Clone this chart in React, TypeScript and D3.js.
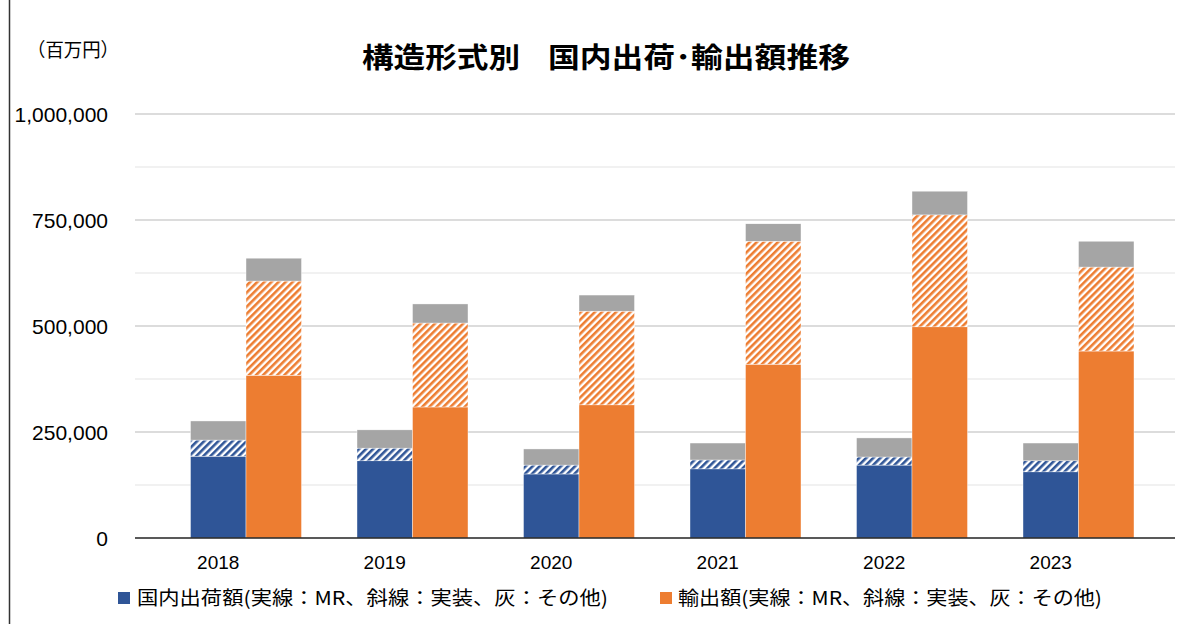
import * as d3 from "d3";

// 単位: 百万円
const years = ["2018", "2019", "2020", "2021", "2022", "2023"];
const domesticMR = [193000, 182000, 151000, 163000, 172000, 156000];
const domesticMount = [38000, 30000, 21000, 21000, 19000, 26000];
const domesticOther = [45000, 43000, 38000, 40000, 45000, 42000];
const exportMR = [384000, 309000, 314000, 410000, 498000, 441000];
const exportMount = [222000, 198000, 221000, 290000, 264000, 198000];
const exportOther = [54000, 45000, 38000, 41000, 56000, 61000];
const yTicks = [0, 250000, 500000, 750000, 1000000];
const minorTicks = [125000, 375000, 625000, 875000];

const titleA = "構造形式別";
const titleB = "国内出荷･輸出額推移";
const unitLabel = "（百万円）";
const legendDomestic = "国内出荷額(実線：MR、斜線：実装、灰：その他)";
const legendExport = "輸出額(実線：MR、斜線：実装、灰：その他)";

const W = 1189;
const H = 624;
const plotLeft = 135;
const plotRight = 1175;
const plotTop = 114;
const plotBottom = 538;

const BLUE = "#2f5597";
const ORANGE = "#ed7d31";
const GRAY = "#a5a5a5";
const NUM_FONT = "'Liberation Sans', Arial, sans-serif";
const JP_FONT = "'Noto Sans CJK JP', 'Noto Sans', sans-serif";

const keys = ["mr", "mount", "other"];

export default function App() {
  const y = d3.scaleLinear().domain([0, 1000000]).range([plotBottom, plotTop]);
  // each year slot = [gap, domestic, export]
  const x = d3.scaleBand<string>().domain(years).range([plotLeft, 1134]).padding(0);
  const barW = x.bandwidth() / 3;

  const domRows = years.map((yr, i) => ({
    year: yr,
    mr: domesticMR[i],
    mount: domesticMount[i],
    other: domesticOther[i],
  }));
  const expRows = years.map((yr, i) => ({
    year: yr,
    mr: exportMR[i],
    mount: exportMount[i],
    other: exportOther[i],
  }));
  const stack = d3.stack<any>().keys(keys);
  const domStack = stack(domRows);
  const expStack = stack(expRows);

  const fills = (color: string, id: string) => ({
    mr: color,
    mount: `url(#${id})`,
    other: GRAY,
  });
  const domFill: any = fills(BLUE, "hatchBlue");
  const expFill: any = fills(ORANGE, "hatchOrange");

  const fmt = d3.format(",");

  const hatch = (id: string, color: string) => (
    <pattern
      id={id}
      patternUnits="userSpaceOnUse"
      width={5}
      height={5}
      patternTransform="rotate(45)"
    >
      <rect width={5} height={5} fill="#fff" />
      <rect width={2.6} height={5} fill={color} />
    </pattern>
  );

  return (
    <svg
      width={W}
      height={H}
      style={{ position: "absolute", left: 0, top: 0, background: "#fff" }}
    >
      <defs>
        {hatch("hatchBlue", BLUE)}
        {hatch("hatchOrange", ORANGE)}
      </defs>

      <rect x={0} y={0} width={W} height={H} fill="#fff" />
      <line x1={9.5} x2={9.5} y1={0} y2={H} stroke="#333" strokeWidth={1.5} />

      {/* title */}
      <text
        x={362}
        y={68}
        fontFamily={JP_FONT}
        fontWeight="bold"
        fontSize={28}
        textLength={158}
        lengthAdjust="spacingAndGlyphs"
        fill="#000"
      >
        {titleA}
      </text>
      <text
        x={548}
        y={68}
        fontFamily={JP_FONT}
        fontWeight="bold"
        fontSize={28}
        textLength={302}
        lengthAdjust="spacingAndGlyphs"
        fill="#000"
      >
        {titleB}
      </text>
      <text
        x={27}
        y={57}
        fontFamily={JP_FONT}
        fontSize={19}
        textLength={92}
        lengthAdjust="spacingAndGlyphs"
        fill="#000"
      >
        {unitLabel}
      </text>

      {/* gridlines */}
      {minorTicks.map((t) => (
        <line
          key={"m" + t}
          x1={plotLeft}
          x2={plotRight}
          y1={y(t)}
          y2={y(t)}
          stroke="#e3e3e3"
          strokeWidth={1}
        />
      ))}
      {yTicks.slice(1).map((t) => (
        <line
          key={"g" + t}
          x1={plotLeft}
          x2={plotRight}
          y1={y(t)}
          y2={y(t)}
          stroke="#d0d0d0"
          strokeWidth={1.5}
        />
      ))}

      {/* y tick labels */}
      {yTicks.map((t) => (
        <text
          key={"t" + t}
          x={108}
          y={y(t)}
          dy="0.36em"
          textAnchor="end"
          fontFamily={NUM_FONT}
          fontSize={21}
          fill="#000"
        >
          {fmt(t)}
        </text>
      ))}

      {/* bars */}
      {domStack.map((layer) =>
        layer.map((d: any) => (
          <rect
            key={"d" + layer.key + d.data.year}
            x={x(d.data.year)! + barW}
            y={y(d[1])}
            width={barW}
            height={y(d[0]) - y(d[1])}
            fill={domFill[layer.key]}
            stroke="#fff"
            strokeWidth={0.4}
          />
        ))
      )}
      {expStack.map((layer) =>
        layer.map((d: any) => (
          <rect
            key={"e" + layer.key + d.data.year}
            x={x(d.data.year)! + 2 * barW}
            y={y(d[1])}
            width={barW}
            height={y(d[0]) - y(d[1])}
            fill={expFill[layer.key]}
            stroke="#fff"
            strokeWidth={0.4}
          />
        ))
      )}

      {/* x axis */}
      <line
        x1={plotLeft}
        x2={plotRight}
        y1={plotBottom}
        y2={plotBottom}
        stroke="#222"
        strokeWidth={1.5}
      />
      {years.map((yr) => (
        <text
          key={"x" + yr}
          x={x(yr)! + barW * 1.5}
          y={569}
          textAnchor="middle"
          fontFamily={NUM_FONT}
          fontSize={19}
          fill="#000"
        >
          {yr}
        </text>
      ))}

      {/* legend */}
      <rect x={118} y={592} width={12} height={12} fill={BLUE} />
      <text
        x={137}
        y={605}
        fontFamily={JP_FONT}
        fontSize={19}
        textLength={471}
        lengthAdjust="spacingAndGlyphs"
        fill="#000"
      >
        {legendDomestic}
      </text>
      <rect x={660} y={592} width={12} height={12} fill={ORANGE} />
      <text
        x={678}
        y={605}
        fontFamily={JP_FONT}
        fontSize={19}
        textLength={424}
        lengthAdjust="spacingAndGlyphs"
        fill="#000"
      >
        {legendExport}
      </text>
    </svg>
  );
}
